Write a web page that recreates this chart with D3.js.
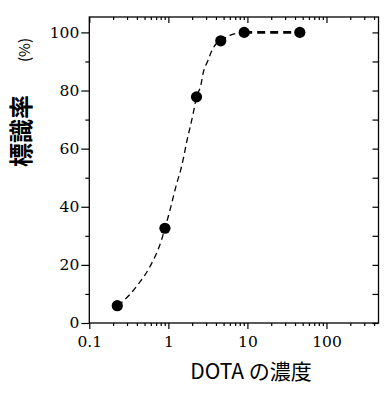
<!DOCTYPE html>
<html>
<head>
<meta charset="utf-8">
<script src="https://cdn.jsdelivr.net/npm/d3@7"></script>
<style>
  body { margin: 0; background: #fff; }
</style>
</head>
<body>
<script>
// measured points (DOTA concentration vs labelling rate)
const conc = [0.226, 0.905, 2.27, 4.6, 9.1, 46];
const rate = [5.95, 32.6, 77.8, 97.1, 100, 100];

// fitted curve
const fitConc = [0.23, 0.28, 0.42, 0.585, 0.82, 0.905, 1.05, 1.15, 1.27, 1.43, 1.57, 1.70, 1.87, 2.06, 2.27, 2.58, 2.75, 3.19, 3.52, 4.0, 4.6, 6.0, 9.1];
const fitRate = [6, 8, 13.5, 19.4, 28.6, 32.6, 38.9, 43.2, 47.8, 52.6, 57.4, 62.2, 67.0, 72.1, 77.8, 81.9, 85.9, 90.5, 93.5, 96, 97.1, 99, 100];

// plateau segment
const flatConc = [9.1, 46];
const flatRate = [100, 100];

const xMajor = [0.1, 1, 10, 100];
const xMinor = [0.2, 0.3, 0.4, 0.5, 0.6, 0.7, 0.8, 0.9,
                2, 3, 4, 5, 6, 7, 8, 9,
                20, 30, 40, 50, 60, 70, 80, 90,
                200, 300, 400];
const yMajor = [0, 20, 40, 60, 80, 100];
const yMinor = [10, 30, 50, 70, 90];
const yRight = [0, 10, 20, 30, 40, 50, 60, 70, 80, 90, 100];

const width = 392,
    height = 396,
    margin = {top: 17, right: 13.5, bottom: 73, left: 89.3};

const w = width - margin.left - margin.right,
    h = height - margin.top - margin.bottom;

const svg = d3.select('body').append('svg')
    .attr('width', width)
    .attr('height', height);

const g = svg.append('g')
    .attr('transform', `translate(${margin.left}, ${margin.top})`);

const x = d3.scaleLog().domain([0.1, 455]).range([0, w]);
const y = d3.scaleLinear().domain([0, 105.3]).range([h, 0]);

/* ------- AXES -------*/

const fmt = d => d3.format('~g')(d);

g.append('g')
    .attr('transform', `translate(0, ${h})`)
    .call(d3.axisBottom(x).tickValues(xMajor).tickFormat(fmt).tickSize(6).tickPadding(7));
g.append('g')
    .attr('transform', `translate(0, ${h})`)
    .call(d3.axisBottom(x).tickValues(xMinor).tickFormat('').tickSize(3));
g.append('g')
    .call(d3.axisTop(x).tickValues(xMajor).tickFormat('').tickSize(-6));
g.append('g')
    .call(d3.axisTop(x).tickValues(xMinor).tickFormat('').tickSize(-3));

g.append('g')
    .call(d3.axisLeft(y).tickValues(yMajor).tickSize(8).tickPadding(2));
g.append('g')
    .call(d3.axisLeft(y).tickValues(yMinor).tickFormat('').tickSize(4));
g.append('g')
    .attr('transform', `translate(${w}, 0)`)
    .call(d3.axisRight(y).tickValues(yRight).tickFormat('').tickSize(-6));

g.selectAll('.domain').remove();
g.selectAll('.tick line')
    .attr('stroke', '#000')
    .attr('stroke-width', 1.2);
g.selectAll('.tick text')
    .attr('fill', '#000')
    .attr('font-family', 'DejaVu Serif')
    .attr('font-size', 15.5);

g.append('rect')
    .attr('width', w)
    .attr('height', h)
    .attr('fill', 'none')
    .attr('stroke', '#000')
    .attr('stroke-width', 1.3);

/* ------- CURVES -------*/

const line = d3.line()
    .x(d => x(d[0]))
    .y(d => y(d[1]))
    .curve(d3.curveMonotoneX);

g.append('path')
    .datum(d3.zip(fitConc, fitRate))
    .attr('d', line)
    .attr('fill', 'none')
    .attr('stroke', '#000')
    .attr('stroke-width', 1.3)
    .attr('stroke-dasharray', '6,4');

g.append('path')
    .datum(d3.zip(flatConc, flatRate))
    .attr('d', line)
    .attr('fill', 'none')
    .attr('stroke', '#000')
    .attr('stroke-width', 2.6)
    .attr('stroke-dasharray', '8,5');

/* ------- POINTS -------*/

g.selectAll('circle')
    .data(d3.zip(conc, rate))
    .enter()
    .append('circle')
        .attr('cx', d => x(d[0]))
        .attr('cy', d => y(d[1]))
        .attr('r', 5.6)
        .attr('fill', '#000');

/* ------- TITLES -------*/

svg.append('text')
    .attr('x', 251)
    .attr('y', 379)
    .attr('text-anchor', 'middle')
    .attr('font-family', 'Noto Sans CJK JP')
    .attr('font-size', 21)
    .text('DOTA の濃度');

const ytitle = svg.append('text')
    .attr('transform', 'translate(30, 167) rotate(-90)')
    .attr('font-family', 'Noto Sans CJK JP');
ytitle.append('tspan')
    .attr('font-size', 24)
    .attr('font-weight', 'bold')
    .text('標識率');
ytitle.append('tspan')
    .attr('dx', 33)
    .attr('font-size', 15)
    .text('(%)');
</script>
</body>
</html>
